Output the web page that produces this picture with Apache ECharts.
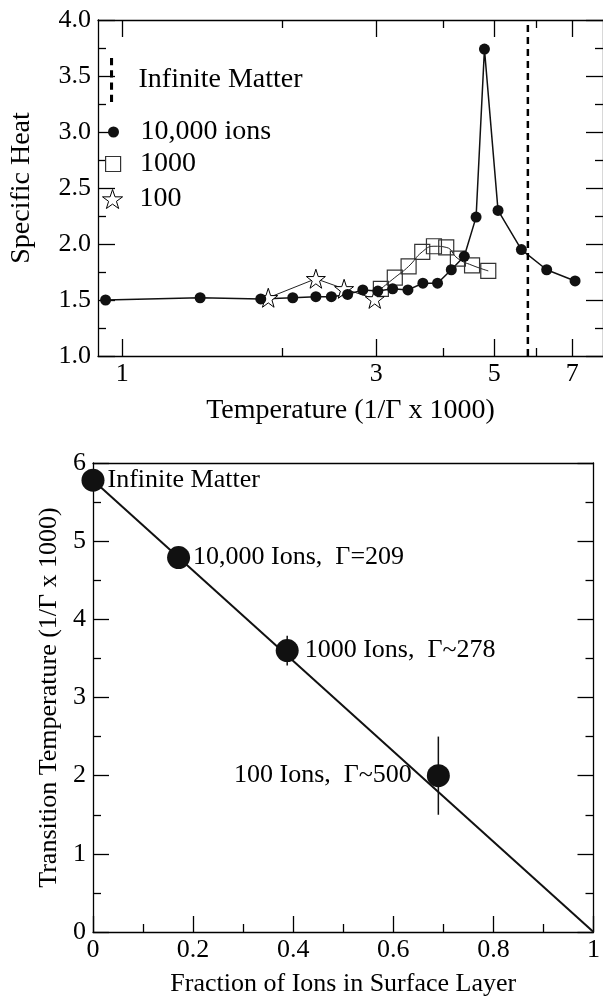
<!DOCTYPE html>
<html>
<head>
<meta charset="utf-8">
<script src="https://cdn.jsdelivr.net/npm/echarts@6/dist/echarts.min.js"></script>
<style>
  html, body { margin: 0; padding: 0; background: #fff; }
  #chart { width: 603px; height: 998px; }
</style>
</head>
<body>
<div id="chart"></div>
<script>
// top panel: specific heat vs temperature (log x)
const bigT = [0.93, 1.40, 1.82, 2.09, 2.31, 2.47, 2.65, 2.83, 3.02, 3.22, 3.44, 3.67, 3.91, 4.15, 4.39, 4.62, 4.79, 5.08, 5.62, 6.27, 7.09];
const bigC = [1.50, 1.52, 1.51, 1.52, 1.53, 1.53, 1.55, 1.59, 1.58, 1.60, 1.59, 1.65, 1.65, 1.77, 1.89, 2.24, 3.74, 2.30, 1.95, 1.77, 1.67];
const midT = [3.06, 3.25, 3.45, 3.66, 3.85, 4.06, 4.27, 4.54, 4.87];
const midC = [1.60, 1.70, 1.80, 1.93, 1.98, 1.97, 1.87, 1.81, 1.76];
const smallT = [1.88, 2.31, 2.61, 2.98];
const smallC = [1.52, 1.69, 1.60, 1.51];
const infiniteT = 5.78;
const infiniteC = [1.0, 4.0];
const majorT = [1, 3, 5, 7];
const minorT = [2, 4, 6];

// bottom panel: transition temperature vs surface fraction
const fracSurface = [0, 0.171, 0.388, 0.69];
const transT = [5.78, 4.79, 3.6, 2.0];
const transErr = [0, 0, 0.19, 0.5];
const pointNames = ['Infinite Matter', '10,000 Ions,  \u0393=209', '1000 Ions,  \u0393~278', '100 Ions,  \u0393~500'];
const fitFrac = [0, 1];
const fitT = [5.78, 0];

const FONT = "'Liberation Serif', 'Times New Roman', serif";
const lg = Math.log10;
const starPath = 'path://M50,0 L61.8,35.1 L98.1,35.1 L68.8,56.8 L79.4,91 L50,70 L20.6,91 L31.2,56.8 L1.9,35.1 L38.2,35.1 Z';
const squarePath = 'path://M0,0H10V10H0Z';
const dashIcon = 'path://M0,0h3v7h-3z M0,12h3v7h-3z M0,24h3v7h-3z M0,36h3v7h-3z';

const chart = echarts.init(document.getElementById('chart'));

const black = '#000';
const axisLine = { show: true, onZero: false, lineStyle: { color: black, width: 1.3 } };
const noLine = { show: false, onZero: false };
const tickLine = { color: black, width: 1.3 };
const lbl = { color: black, fontFamily: FONT, fontSize: 26 };
const nameStyle = { color: black, fontFamily: FONT, fontSize: 28 };
const nameStyle2 = { color: black, fontFamily: FONT, fontSize: 26 };

const logX = {
  type: 'value', gridIndex: 0, min: lg(0.9), max: lg(8),
  splitLine: { show: false }
};

const legendBase = {
  orient: 'vertical', padding: 0, itemGap: 0, selectedMode: false,
  itemWidth: 44,
  textStyle: { color: black, fontFamily: FONT, fontSize: 28 }
};

const option = {
  animation: false,
  backgroundColor: '#fff',
  grid: [
    { left: 93, right: 0, top: 20, height: 336 },
    { left: 93, right: 0, top: 463, height: 471 }
  ],
  legend: [
    Object.assign({}, legendBase, {
      left: 110, top: 58, itemHeight: 44,
      data: [{ name: 'Infinite Matter', icon: dashIcon, itemStyle: { color: black, borderWidth: 0 } }]
    }),
    Object.assign({}, legendBase, {
      left: 108, top: 118, itemHeight: 11,
      data: [{ name: '10,000 ions', icon: 'circle', itemStyle: { color: '#111', borderWidth: 0 } }]
    }),
    Object.assign({}, legendBase, {
      left: 105, top: 150, itemHeight: 15,
      data: [{ name: '1000', icon: squarePath, itemStyle: { color: 'rgba(0,0,0,0)', borderColor: '#333', borderWidth: 1.2 } }]
    }),
    Object.assign({}, legendBase, {
      left: 102, top: 185, itemHeight: 19,
      data: [{ name: '100', icon: starPath, itemStyle: { color: '#fff', borderColor: black, borderWidth: 1 } }]
    })
  ],
  xAxis: [
    Object.assign({}, logX, {
      position: 'bottom',
      axisLine: axisLine,
      axisTick: { inside: true, length: 17, customValues: majorT.map(lg), lineStyle: tickLine },
      axisLabel: Object.assign({}, lbl, { margin: 5, customValues: majorT.map(lg),
        formatter: (v) => String(Math.round(Math.pow(10, v))) }),
      name: 'Temperature (1/\u0393 x 1000)', nameLocation: 'middle', nameGap: 41,
      nameTextStyle: nameStyle
    }),
    Object.assign({}, logX, {
      position: 'bottom', axisLine: noLine,
      axisTick: { inside: true, length: 8, customValues: minorT.map(lg), lineStyle: tickLine },
      axisLabel: { show: false }
    }),
    Object.assign({}, logX, {
      position: 'top', axisLine: axisLine,
      axisTick: { inside: true, length: 17, customValues: majorT.map(lg), lineStyle: tickLine },
      axisLabel: { show: false }
    }),
    Object.assign({}, logX, {
      position: 'top', axisLine: noLine,
      axisTick: { inside: true, length: 8, customValues: minorT.map(lg), lineStyle: tickLine },
      axisLabel: { show: false }
    }),
    {
      type: 'value', gridIndex: 1, position: 'bottom', min: 0, max: 1, interval: 0.2,
      splitLine: { show: false },
      axisLine: axisLine,
      axisTick: { inside: true, length: 16, lineStyle: tickLine },
      minorTick: { show: true, splitNumber: 2, length: 8, lineStyle: tickLine },
      axisLabel: Object.assign({}, lbl, { margin: 5 }),
      name: 'Fraction of Ions in Surface Layer', nameLocation: 'middle', nameGap: 39,
      nameTextStyle: nameStyle2
    },
    {
      type: 'value', gridIndex: 1, position: 'top', min: 0, max: 1,
      splitLine: { show: false }, axisLine: axisLine,
      axisTick: { show: false }, axisLabel: { show: false }
    }
  ],
  yAxis: [
    {
      type: 'value', gridIndex: 0, position: 'left', min: 1, max: 4, interval: 0.5,
      splitLine: { show: false }, axisLine: axisLine,
      axisTick: { inside: true, length: 17, lineStyle: tickLine },
      minorTick: { show: true, splitNumber: 2, length: 8, lineStyle: tickLine },
      axisLabel: Object.assign({}, lbl, { margin: 7, formatter: (v) => v.toFixed(1) }),
      name: 'Specific Heat', nameLocation: 'middle', nameGap: 62,
      nameTextStyle: nameStyle
    },
    {
      type: 'value', gridIndex: 0, position: 'right', min: 1, max: 4, interval: 0.5,
      splitLine: { show: false }, axisLine: axisLine,
      axisTick: { inside: true, length: 17, lineStyle: tickLine },
      minorTick: { show: true, splitNumber: 2, length: 8, lineStyle: tickLine },
      axisLabel: { show: false }
    },
    {
      type: 'value', gridIndex: 1, position: 'left', min: 0, max: 6, interval: 1,
      splitLine: { show: false }, axisLine: axisLine,
      axisTick: { inside: true, length: 16, lineStyle: tickLine },
      minorTick: { show: true, splitNumber: 2, length: 8, lineStyle: tickLine },
      axisLabel: Object.assign({}, lbl, { margin: 7 }),
      name: 'Transition Temperature (1/\u0393 x 1000)', nameLocation: 'middle', nameGap: 31,
      nameTextStyle: nameStyle2
    },
    {
      type: 'value', gridIndex: 1, position: 'right', min: 0, max: 6, interval: 1,
      splitLine: { show: false }, axisLine: axisLine,
      axisTick: { inside: true, length: 16, lineStyle: tickLine },
      minorTick: { show: true, splitNumber: 2, length: 8, lineStyle: tickLine },
      axisLabel: { show: false }
    }
  ],
  series: [
    {
      name: '1000', type: 'line', xAxisIndex: 0, yAxisIndex: 0,
      data: midT.map((t, i) => [lg(t), midC[i]]),
      smooth: 0.5, symbol: squarePath, symbolSize: 15,
      lineStyle: { color: '#222', width: 1 },
      itemStyle: { color: 'rgba(0,0,0,0)', borderColor: '#333', borderWidth: 1.2 }
    },
    {
      name: '100', type: 'line', xAxisIndex: 0, yAxisIndex: 0,
      data: smallT.map((t, i) => [lg(t), smallC[i]]),
      symbol: starPath, symbolSize: 19,
      lineStyle: { color: '#222', width: 1 },
      itemStyle: { color: '#fff', borderColor: black, borderWidth: 1 }
    },
    {
      name: '10,000 ions', type: 'line', xAxisIndex: 0, yAxisIndex: 0,
      data: bigT.map((t, i) => [lg(t), bigC[i]]),
      symbol: 'circle', symbolSize: 11,
      lineStyle: { color: '#111', width: 1.5 },
      itemStyle: { color: '#111' }
    },
    {
      name: 'Infinite Matter', type: 'line', xAxisIndex: 0, yAxisIndex: 0,
      data: infiniteC.map((c) => [lg(infiniteT), c]),
      symbol: 'none',
      lineStyle: { color: black, width: 2.5, type: [7, 5] }
    },
    {
      name: 'fit', type: 'line', xAxisIndex: 4, yAxisIndex: 2,
      data: fitFrac.map((f, i) => [f, fitT[i]]),
      symbol: 'none',
      lineStyle: { color: '#111', width: 2 }
    },
    {
      name: 'errors', type: 'custom', xAxisIndex: 4, yAxisIndex: 2,
      data: fracSurface.map((f, i) => [f, transT[i], transErr[i]]),
      renderItem: (params, api) => {
        const lo = api.coord([api.value(0), api.value(1) - api.value(2)]);
        const hi = api.coord([api.value(0), api.value(1) + api.value(2)]);
        return {
          type: 'line',
          shape: { x1: lo[0], y1: lo[1], x2: hi[0], y2: hi[1] },
          style: { stroke: '#111', lineWidth: 1.5 }
        };
      }
    },
    {
      name: 'transition', type: 'scatter', xAxisIndex: 4, yAxisIndex: 2,
      data: fracSurface.map((f, i) => ({
        value: [f, transT[i]],
        label: i === 3 ? { position: 'left', distance: 15 } : { position: 'right', distance: i === 2 ? 6 : 3 }
      })),
      symbolSize: 23,
      itemStyle: { color: '#111', opacity: 1 },
      label: {
        show: true, color: black, fontFamily: FONT, fontSize: 26,
        formatter: (p) => pointNames[p.dataIndex]
      }
    }
  ]
};

chart.setOption(option);
</script>
</body>
</html>
